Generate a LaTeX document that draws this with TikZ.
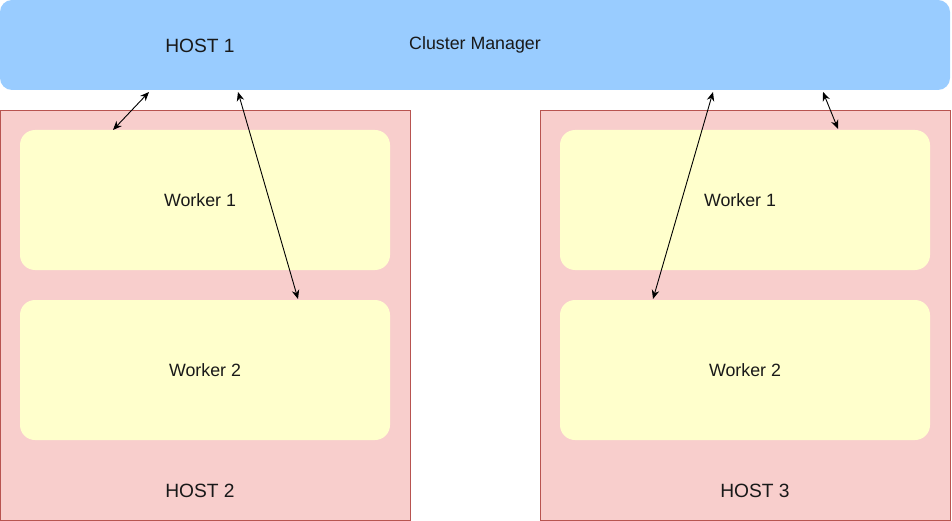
\documentclass[tikz,border=0pt]{standalone}
\usepackage{fontspec}
\setmainfont{Liberation Sans}
\usetikzlibrary{arrows.meta}
\definecolor{mgrblue}{HTML}{99CCFF}
\definecolor{hostfill}{HTML}{F8CECC}
\definecolor{hostline}{HTML}{B85450}
\definecolor{workfill}{HTML}{FFFFCC}
\tikzset{
  mgr/.style={fill=mgrblue, draw=none, rounded corners=12pt},
  hostbox/.style={fill=hostfill, draw=hostline, line width=1pt},
  workbox/.style={fill=workfill, draw=none, rounded corners=15pt},
  lbl/.style={font=\fontsize{17.8}{21}\selectfont, text=black!90, inner sep=0pt},
  biglbl/.style={font=\fontsize{19.2}{23}\selectfont, text=black!90, inner sep=0pt},
  link/.style={draw=black, line width=0.9pt, {Stealth[length=9pt,width=7.5pt]}-{Stealth[length=9pt,width=7.5pt]}}
}
\begin{document}
\begin{tikzpicture}[x=1pt,y=-1pt]
\useasboundingbox (0,0) rectangle (952,521);
% cluster manager
\path[mgr] (0,0) rectangle (950,90);
\node[biglbl] (h1) at (200,46) {HOST 1};
\node[lbl] (cm) at (475,45) {Cluster Manager};
% host 2
\path[hostbox] (0.5,110.5) rectangle (410.5,520);
\path[workbox] (20,130) rectangle (390,270);
\path[workbox] (20,300) rectangle (390,440);
\node[lbl] (w21) at (200,200) {Worker 1};
\node[lbl] (w22) at (205,370) {Worker 2};
\node[biglbl] (h2) at (200,491) {HOST 2};
% host 3
\path[hostbox] (540.5,110.5) rectangle (950.5,520);
\path[workbox] (560,130) rectangle (930,270);
\path[workbox] (560,300) rectangle (930,440);
\node[lbl] (w31) at (740,200) {Worker 1};
\node[lbl] (w32) at (745,370) {Worker 2};
\node[biglbl] (h3) at (755,491) {HOST 3};
% connector end points
\coordinate (a1) at (149,92);
\coordinate (a2) at (113,130);
\coordinate (b1) at (238,92);
\coordinate (b2) at (298,299);
\coordinate (c1) at (713,92);
\coordinate (c2) at (653,299);
\coordinate (d1) at (823,92);
\coordinate (d2) at (838,129);
\draw[link] (a1) -- (a2);
\draw[link] (b1) -- (b2);
\draw[link] (c1) -- (c2);
\draw[link] (d1) -- (d2);
\end{tikzpicture}
\end{document}
